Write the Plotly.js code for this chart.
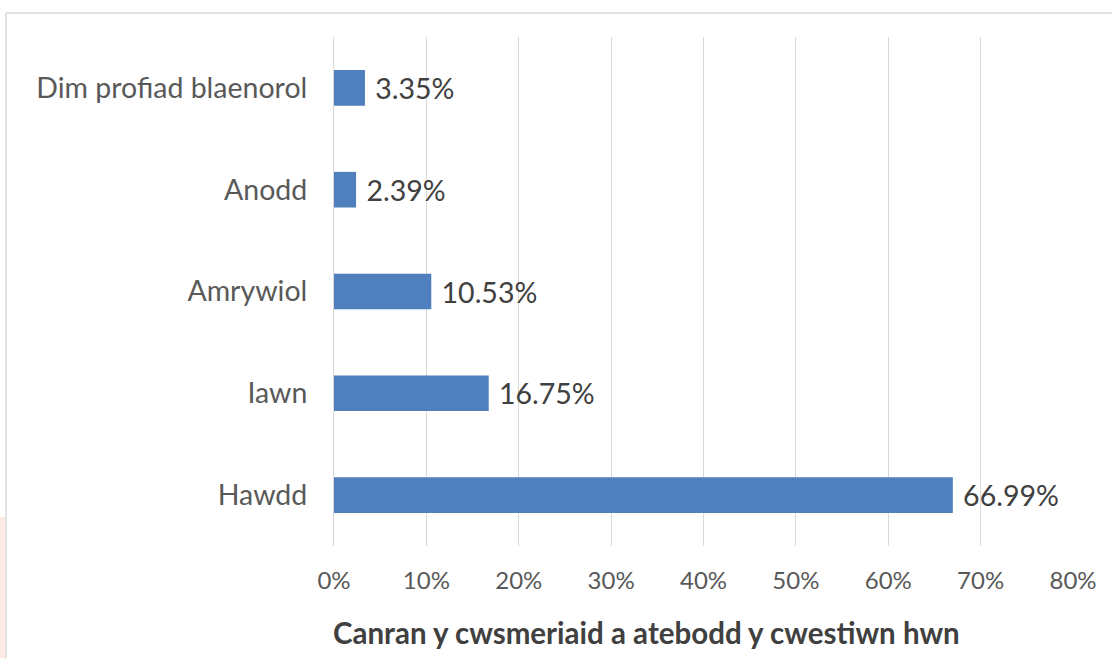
<!DOCTYPE html>
<html><head><meta charset="utf-8">
<script src="https://cdn.plot.ly/plotly-3.0.1.min.js"></script>
<style>html,body{margin:0;padding:0;background:#fff;}#chart{width:1112px;height:658px;}</style>
</head><body><div id="chart"></div>
<script>
const categories = ["Hawdd", "Iawn", "Amrywiol", "Anodd", "Dim profiad blaenorol"];
const values = [66.99, 16.75, 10.53, 2.39, 3.35];
const tickVals = [0, 10, 20, 30, 40, 50, 60, 70, 80];
const tickText = ["0%", "10%", "20%", "30%", "40%", "50%", "60%", "70%", "80%"];
const xTitle = "Canran y cwsmeriaid a atebodd y cwestiwn hwn";

const W = 1112, H = 658, L = 334, R = 39, T = 37, B = 112;
const pw = W - L - R, ph = H - T - B;
const px = v => (v - L) / pw;
const py = v => (H - B - v) / ph;
const FONT = 'Lato, sans-serif';

const trace = {
  type: 'bar', orientation: 'h',
  y: categories, x: values,
  marker: {color: '#4f7fbd'},
  width: 0.35,
  text: values.map(v => '\u00a0' + v.toFixed(2) + '%'),
  textposition: 'outside',
  textfont: {family: FONT, size: 28.5, color: '#404040'},
  cliponaxis: false,
  hoverinfo: 'none'
};

const layout = {
  width: W, height: H,
  margin: {l: L, r: R, t: T, b: B, pad: 0},
  paper_bgcolor: '#ffffff', plot_bgcolor: '#ffffff',
  showlegend: false,
  font: {family: FONT, color: '#595959'},
  xaxis: {
    range: [0, 80], tickvals: tickVals, ticktext: tickText,
    showgrid: true, gridcolor: '#d9d9d9', gridwidth: 1,
    zeroline: false, showline: false, ticks: '',
    tickfont: {size: 24, color: '#595959'},
    ticklabelstandoff: 18,
    fixedrange: true
  },
  yaxis: {
    range: [-0.5, 4.5], type: 'category',
    tickfont: {size: 28.5, color: '#595959'},
    showline: true, linecolor: '#d9d9d9', linewidth: 1,
    ticks: '', ticklabelstandoff: 20,
    showgrid: false, zeroline: false, fixedrange: true
  },
  annotations: [
    {text: '<b>' + xTitle + '</b>', xref: 'paper', yref: 'paper', x: px(331), y: py(632),
     xanchor: 'left', yanchor: 'middle', showarrow: false,
     font: {family: FONT, size: 29.5, color: '#404040'}}
  ],
  shapes: [
    {type: 'line', xref: 'paper', yref: 'paper', x0: px(6), x1: px(1120), y0: py(13), y1: py(13), line: {color: '#d9d9d9', width: 1.5}},
    {type: 'line', xref: 'paper', yref: 'paper', x0: px(6), x1: px(6), y0: py(13), y1: py(670), line: {color: '#d9d9d9', width: 1.5}},
    {type: 'rect', xref: 'paper', yref: 'paper', x0: px(-2), x1: px(5), y0: py(517), y1: py(670), fillcolor: '#fdeae2', line: {width: 0}, layer: 'below'}
  ]
};

Plotly.newPlot('chart', [trace], layout, {displayModeBar: false, staticPlot: true});
</script></body></html>
